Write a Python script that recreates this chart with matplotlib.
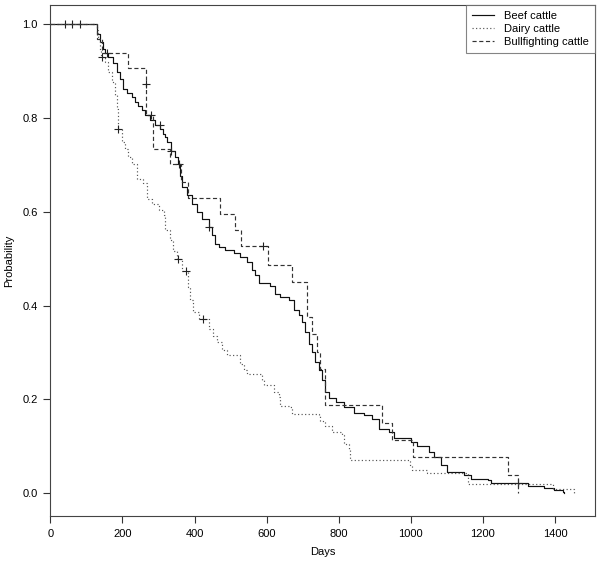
import numpy as np
import matplotlib
matplotlib.use('Agg')
import matplotlib.pyplot as plt

plt.rcParams['font.family'] = ['Liberation Sans', 'DejaVu Sans']

# Kaplan-Meier steps (days, survival after the step)
beef_t = [0, 128.5, 137.7, 146.8, 152, 160.7, 174.6, 184.1, 193.3, 202.4, 211.9, 225.8, 235.0,
          244.2, 253.6, 262.8, 276.7, 290.6, 304.5, 313.7, 318.4, 323.1, 335.1, 346.2, 355.4,
          360.1, 364.8, 378.8, 392.7, 406.6, 420.5, 438.8, 448.3, 457.5, 466.6, 485.3, 508.3,
          527.0, 545.6, 559.5, 568.7, 577.9, 610.4, 624.3, 638.2, 661.3, 675.2, 689.1, 698.6,
          707.7, 716.9, 726.4, 735.5, 744.7, 754.2, 763.3, 772.5, 791.2, 814.2, 842.1, 869.9,
          893.2, 911.6, 939.4, 953.3, 999.7, 1018.4, 1050.6, 1064.5, 1083.2, 1101.8, 1148.0,
          1166.6, 1213.0, 1222.2, 1324.2, 1370.4, 1398.2, 1421.6, 1426]
beef_s = [1.0, 0.979, 0.961, 0.947, 0.937, 0.930, 0.916, 0.897, 0.883, 0.862, 0.853, 0.844, 0.833,
          0.826, 0.816, 0.805, 0.795, 0.785, 0.777, 0.766, 0.759, 0.748, 0.730, 0.716, 0.702,
          0.677, 0.652, 0.635, 0.617, 0.599, 0.585, 0.567, 0.550, 0.532, 0.525, 0.518, 0.511,
          0.503, 0.493, 0.475, 0.464, 0.447, 0.441, 0.425, 0.418, 0.411, 0.390, 0.379, 0.364,
          0.343, 0.319, 0.301, 0.279, 0.262, 0.241, 0.215, 0.204, 0.194, 0.183, 0.172, 0.166,
          0.159, 0.138, 0.131, 0.117, 0.109, 0.100, 0.088, 0.077, 0.060, 0.045, 0.038,
          0.031, 0.028, 0.022, 0.015, 0.012, 0.008, 0.003, 0.0]
beef_cens = [40, 59, 82, 156, 303, 335.5, 356, 440, 1297]

dairy_t = [0, 128.5, 133, 138, 141, 151.5, 161, 170, 179, 184, 188, 198, 207, 216, 226, 240, 258,
           267.5, 281, 300, 314, 318, 332, 341.5, 350, 365, 383, 388, 397, 411, 439, 450, 462,
           476, 490, 527, 536, 545, 587, 592, 619.6, 633.5, 638, 661, 670.7, 744.7, 749.4, 763,
           782, 810, 814, 828, 831, 999, 1003, 1046, 1158, 1394, 1452]
dairy_s = [1.0, 0.986, 0.968, 0.945, 0.929, 0.919, 0.897, 0.876, 0.848, 0.819, 0.777, 0.748, 0.733,
           0.717, 0.701, 0.669, 0.660, 0.628, 0.617, 0.603, 0.592, 0.560, 0.539, 0.517, 0.499,
           0.4735, 0.439, 0.411, 0.386, 0.372, 0.351, 0.336, 0.322, 0.305, 0.294, 0.276, 0.262,
           0.255, 0.241, 0.230, 0.216, 0.205, 0.187, 0.184, 0.170, 0.166, 0.155, 0.143, 0.1306,
           0.1235, 0.106, 0.095, 0.072, 0.061, 0.050, 0.0426, 0.0207, 0.0099, 0.0]
dairy_cens = [142, 188.5, 355, 377, 423]

bull_t = [0, 130, 143, 216, 265, 266, 284, 332, 362, 383, 471, 511, 530, 604, 671, 711, 725, 740,
          748, 761, 919, 947, 1006, 1269, 1297]
bull_s = [1.0, 0.968, 0.937, 0.905, 0.871, 0.805, 0.734, 0.702, 0.663, 0.630, 0.594, 0.560, 0.526,
          0.487, 0.450, 0.3755, 0.3387, 0.301, 0.265, 0.189, 0.150, 0.113, 0.077, 0.038, 0.0]
bull_cens = [265.5, 279, 589]

labels = ['Beef cattle', 'Dairy cattle', 'Bullfighting cattle']
styles = ['-', (0, (1, 2)), (0, (3.5, 2.2))]
colors = ['#111111', '#555555', '#333333']

fig = plt.figure(figsize=(6, 5.68), dpi=100)
ax = fig.add_axes([0.084, 0.091, 0.907, 0.900])

curves = [(beef_t, beef_s, beef_cens), (dairy_t, dairy_s, dairy_cens), (bull_t, bull_s, bull_cens)]
for (t, s, c), lab, ls, col in zip(curves, labels, styles, colors):
    t = np.array(t)
    s = np.array(s)
    ax.plot(t, s, drawstyle='steps-post', linestyle=ls, color=col, lw=0.85, label=lab)
    # censor marks sit on the curve
    idx = np.searchsorted(t, c, side='right') - 1
    ax.plot(c, s[idx], linestyle='none', marker='+', ms=6, mew=0.8, color='#222222')

ax.set_xlim(0, 1510)
ax.set_ylim(-0.049, 1.04)
ax.set_xticks(range(0, 1401, 200))
ax.set_yticks([0.0, 0.2, 0.4, 0.6, 0.8, 1.0])
ax.set_yticklabels(['0.0', '0.2', '0.4', '0.6', '0.8', '1.0'])
ax.tick_params(direction='out', length=5, width=0.8, labelsize=8, pad=4, color='#333333')
for sp in ax.spines.values():
    sp.set_color('#444444')
    sp.set_linewidth(0.8)

ax.set_xlabel('Days', fontsize=8, labelpad=6)
ax.set_ylabel('Probability', fontsize=8, labelpad=6)

leg = ax.legend(loc='upper right', fontsize=8, frameon=True, fancybox=False,
                borderaxespad=0, handlelength=2.0, handletextpad=0.9, borderpad=0.5,
                labelspacing=0.3)
leg.get_frame().set_edgecolor('#666666')
leg.get_frame().set_linewidth(0.8)

fig.savefig('out.png', dpi=100)
